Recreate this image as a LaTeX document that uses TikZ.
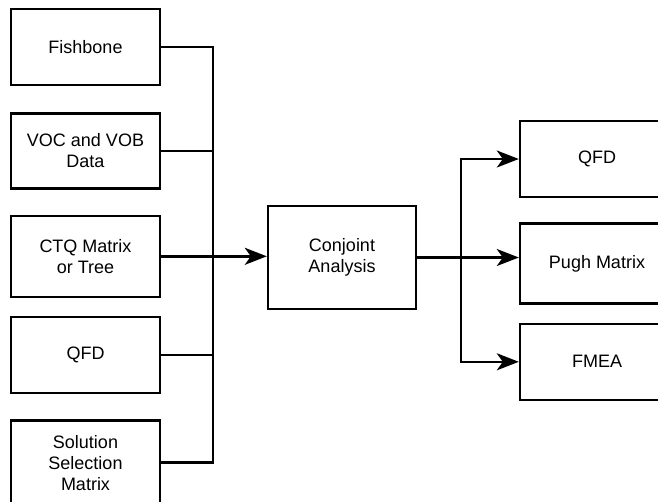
\documentclass[tikz,border=0pt]{standalone}
\usepackage{fontspec}
\setmainfont{Liberation Sans}
\usetikzlibrary{positioning, arrows.meta}

\begin{document}
\begin{tikzpicture}[
    x=1pt, y=-1pt,
    box/.style={draw, rectangle, line width=2.4pt, minimum width=149pt, align=center,
        font=\fontsize{18pt}{21pt}\selectfont},
    wire/.style={line width=2.4pt},
    arr/.style={line width=2.4pt, -{Stealth[length=22pt, width=17pt, inset=6pt]}}
]
    \fill[white] (0,0) rectangle (658,501);
    \clip (0,0) rectangle (658,501);

    % inputs
    \node[box, minimum height=76pt] (fish) at (85.5,47) {Fishbone};
    \node[box, minimum height=75pt] (voc) [below=26pt of fish] {VOC and VOB\\Data};
    \node[box, minimum height=81pt] (ctq) [below=25pt of voc] {CTQ Matrix\\or Tree};
    \node[box, minimum height=76pt] (qfdl) [below=18pt of ctq] {QFD};
    \node[box, minimum height=84pt] (ssm) [below=25pt of qfdl] {Solution\\Selection\\Matrix};

    % tool
    \node[box, minimum width=148pt, minimum height=103pt] (conj) at (342,257.5) {Conjoint\\Analysis};

    % outputs
    \node[box, minimum width=154pt, minimum height=76pt] (qfdr) at (597,159) {QFD};
    \node[box, minimum width=154pt, minimum height=80pt] (pugh) [below=24pt of qfdr] {Pugh Matrix};
    \node[box, minimum width=154pt, minimum height=76pt] (fmea) [below=18pt of pugh] {FMEA};

    \coordinate (jl) at (213,257.5);
    \coordinate (jr) at (461,257.5);

    \draw[wire] (fish.east) -| (jl);
    \draw[wire] (ssm.east) -| (jl);
    \draw[wire] (voc.east) -- (voc.east -| jl);
    \draw[wire] (qfdl.east) -- (qfdl.east -| jl);
    \draw[arr] (ctq.east) -- (ctq.east -| conj.west);

    \draw[arr] (conj.east) -- (conj.east -| pugh.west);
    \draw[arr] (jr) |- (qfdr.west);
    \draw[arr] (jr) |- (fmea.west);
\end{tikzpicture}
\end{document}
